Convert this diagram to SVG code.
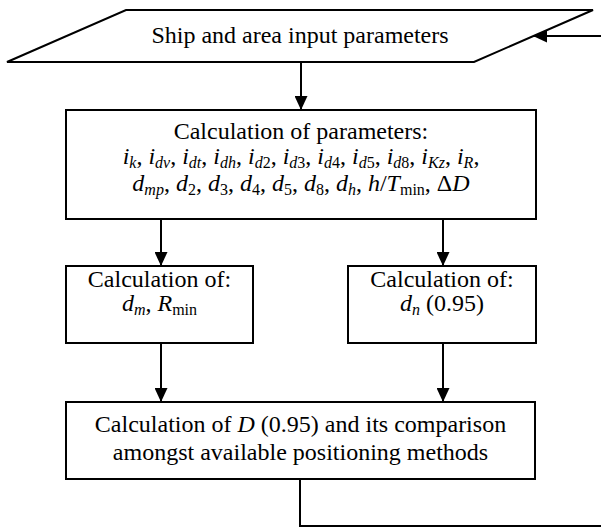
<svg xmlns="http://www.w3.org/2000/svg" width="601" height="527" viewBox="0 0 601 527">
<defs>
<marker id="ah" markerWidth="14" markerHeight="13" refX="14" refY="6.5" orient="auto" markerUnits="userSpaceOnUse">
<path d="M0,0 L14,6.5 L0,13 Z" fill="#000"/>
</marker>
<style>
.box{fill:#fff;stroke:#000;stroke-width:2}
.t{font-family:"Liberation Serif","Times New Roman",serif;font-size:24px;fill:#000;text-anchor:middle}
.i{font-style:italic}
.s{font-size:16px}
.c{fill:none;stroke:#000;stroke-width:2}
</style>
</defs>
<g id="connectors">
<path class="c" d="M301,62 V110" marker-end="url(#ah)"/>
<path class="c" d="M161,219 V266" marker-end="url(#ah)"/>
<path class="c" d="M443,219 V266" marker-end="url(#ah)"/>
<path class="c" d="M161,343 V402" marker-end="url(#ah)"/>
<path class="c" d="M443,343 V402" marker-end="url(#ah)"/>
<path class="c" d="M300,479 V526 H602 V36 H533" marker-end="url(#ah)"/>
</g>
<g id="input">
<polygon class="box" points="126,10 593,10 474,62 7,62"/>
<text class="t" x="300" y="43">Ship and area input parameters</text>
</g>
<g id="params">
<rect class="box" x="66" y="110" width="470" height="109"/>
<text class="t" x="301" y="139">Calculation of parameters:</text>
<text class="t" x="301" y="164"><tspan class="i">i</tspan><tspan class="s i" dy="4">k</tspan><tspan dy="-4">, </tspan><tspan class="i">i</tspan><tspan class="s i" dy="4">dv</tspan><tspan dy="-4">, </tspan><tspan class="i">i</tspan><tspan class="s i" dy="4">dt</tspan><tspan dy="-4">, </tspan><tspan class="i">i</tspan><tspan class="s i" dy="4">dh</tspan><tspan dy="-4">, </tspan><tspan class="i">i</tspan><tspan class="s" dy="4"><tspan class="i">d</tspan>2</tspan><tspan dy="-4">, </tspan><tspan class="i">i</tspan><tspan class="s" dy="4"><tspan class="i">d</tspan>3</tspan><tspan dy="-4">, </tspan><tspan class="i">i</tspan><tspan class="s" dy="4"><tspan class="i">d</tspan>4</tspan><tspan dy="-4">, </tspan><tspan class="i">i</tspan><tspan class="s" dy="4"><tspan class="i">d</tspan>5</tspan><tspan dy="-4">, </tspan><tspan class="i">i</tspan><tspan class="s" dy="4"><tspan class="i">d</tspan>8</tspan><tspan dy="-4">, </tspan><tspan class="i">i</tspan><tspan class="s i" dy="4">Kz</tspan><tspan dy="-4">, </tspan><tspan class="i">i</tspan><tspan class="s i" dy="4">R</tspan><tspan dy="-4">,</tspan></text>
<text class="t" x="301" y="191"><tspan class="i">d</tspan><tspan class="s i" dy="4">mp</tspan><tspan dy="-4">, </tspan><tspan class="i">d</tspan><tspan class="s" dy="4">2</tspan><tspan dy="-4">, </tspan><tspan class="i">d</tspan><tspan class="s" dy="4">3</tspan><tspan dy="-4">, </tspan><tspan class="i">d</tspan><tspan class="s" dy="4">4</tspan><tspan dy="-4">, </tspan><tspan class="i">d</tspan><tspan class="s" dy="4">5</tspan><tspan dy="-4">, </tspan><tspan class="i">d</tspan><tspan class="s" dy="4">8</tspan><tspan dy="-4">, </tspan><tspan class="i">d</tspan><tspan class="s i" dy="4">h</tspan><tspan dy="-4">, </tspan><tspan class="i">h</tspan>/<tspan class="i">T</tspan><tspan class="s" dy="4">min</tspan><tspan dy="-4">, Δ</tspan><tspan class="i">D</tspan></text>
</g>
<g id="calc-left">
<rect class="box" x="66" y="266" width="187" height="77"/>
<text class="t" x="159.5" y="287">Calculation of:</text>
<text class="t" x="159.5" y="311"><tspan class="i">d</tspan><tspan class="s i" dy="4">m</tspan><tspan dy="-4">, </tspan><tspan class="i">R</tspan><tspan class="s" dy="4">min</tspan></text>
</g>
<g id="calc-right">
<rect class="box" x="348" y="266" width="188" height="77"/>
<text class="t" x="442" y="287">Calculation of:</text>
<text class="t" x="442" y="311"><tspan class="i">d</tspan><tspan class="s i" dy="4">n</tspan><tspan dy="-4"> (0.95)</tspan></text>
</g>
<g id="compare">
<rect class="box" x="66" y="402" width="469" height="77"/>
<text class="t" x="300.5" y="432">Calculation of <tspan class="i">D</tspan> (0.95) and its comparison</text>
<text class="t" x="300.5" y="460">amongst available positioning methods</text>
</g>
</svg>
